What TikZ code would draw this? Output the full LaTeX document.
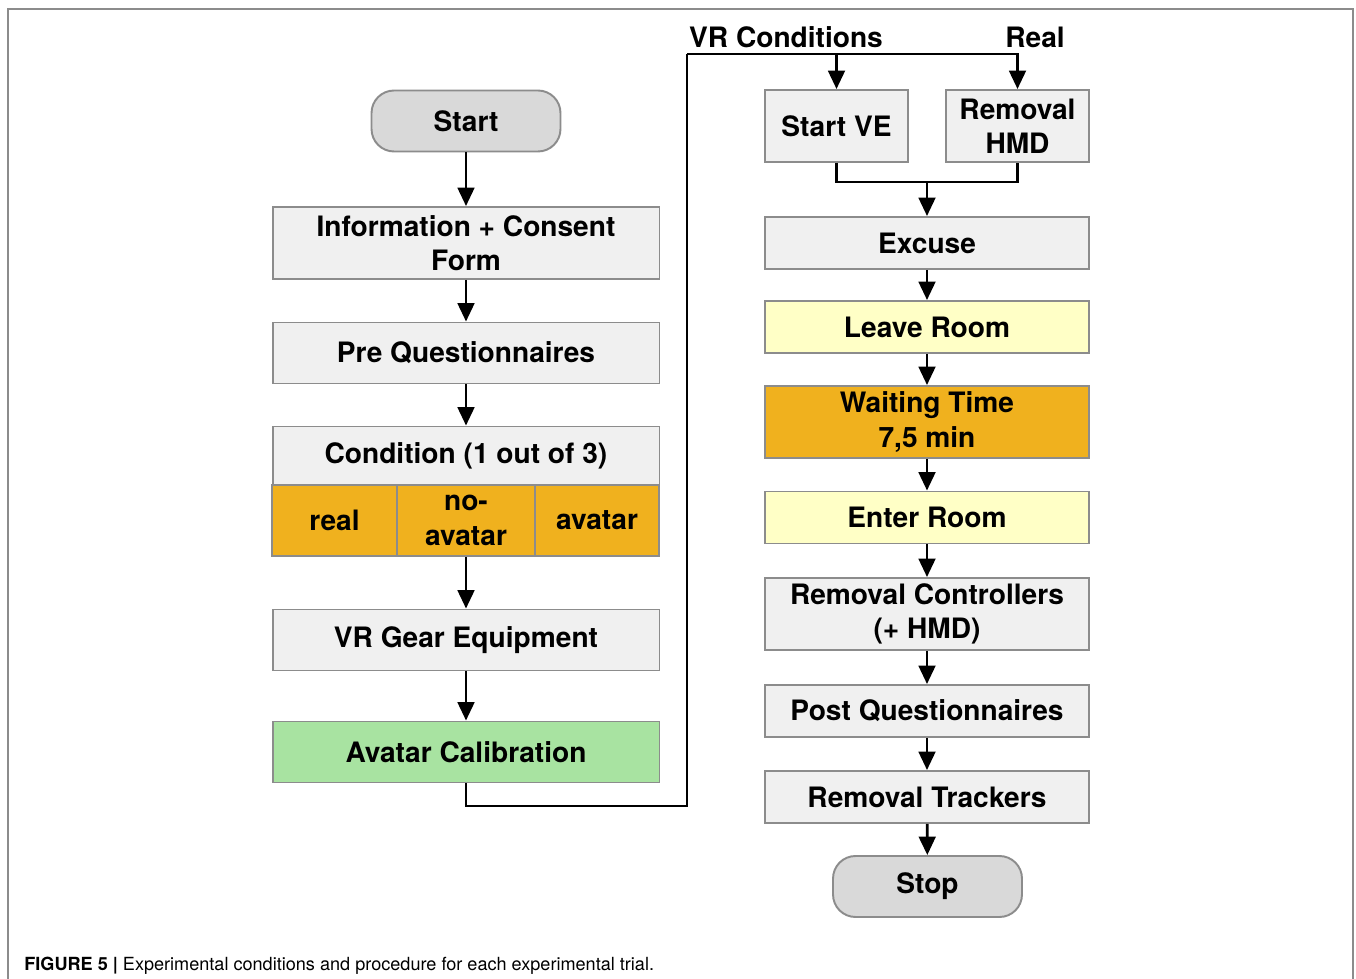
\documentclass[tikz,border=0pt]{standalone}
\usepackage{fontspec}
\setmainfont{TeX Gyre Heros}
\usetikzlibrary{positioning,arrows.meta}

\definecolor{boxgray}{HTML}{F0F0F0}
\definecolor{termgray}{HTML}{D9D9D9}
\definecolor{edgegray}{HTML}{8C8C8C}
\definecolor{paleyellow}{HTML}{FFFFC6}
\definecolor{condorange}{HTML}{F0B11E}
\definecolor{calibgreen}{HTML}{A8E3A1}

\begin{document}
\begin{tikzpicture}[
    x=0.02cm, y=-0.02cm,
    box/.style={draw=edgegray, line width=1.1pt, fill=boxgray, minimum width=7.74cm, minimum height=1.22cm, align=center, inner sep=0pt, font=\fontsize{16}{19.5}\selectfont\bfseries},
    rbox/.style={box, minimum width=6.48cm, minimum height=1.04cm},
    hbox/.style={rbox, minimum width=2.86cm, minimum height=1.44cm},
    subbox/.style={box, fill=condorange, minimum height=1.42cm},
    term/.style={box, fill=termgray, rounded corners=0.45cm, minimum width=3.78cm},
    line/.style={draw, line width=1.6pt},
    arrow/.style={line, -{Triangle[width=9.5pt,length=10.5pt]}},
    label/.style={font=\fontsize{16}{17}\selectfont\bfseries, inner sep=0pt}
]
\useasboundingbox (0,0) rectangle (1356,979);

% Frame
\draw[edgegray, line width=0.8pt] (8,979) -- (8,9) -- (1353,9) -- (1353,979);

% Left column
\node[term] (start) at (466,121) {Start};
\node[box, minimum height=1.44cm] (info) at (466,243) {Information + Consent\\Form};
\node[box] (preq) at (466,353) {Pre Questionnaires};
\node[box, minimum height=1.18cm] (cond) at (466,456) {Condition (1 out of 3)};
\node[subbox, minimum width=2.5cm] (real) at (334.5,520.5) {real};
\node[subbox, minimum width=2.76cm] (noav) at (466,520.5) {no-\\avatar};
\node[subbox, minimum width=2.48cm] (avatar) at (597,520.5) {avatar};
\node[box] (gear) at (466,640) {VR Gear Equipment};
\node[box, fill=calibgreen] (calib) at (466,752) {Avatar Calibration};

% Right column
\node[hbox] (startve) at (836.5,126) {Start VE};
\node[hbox] (remhmd) at (1017.5,126) {Removal\\HMD};
\node[rbox] (excuse) at (927,243) {Excuse};
\node[rbox, fill=paleyellow] (leave) at (927,327) {Leave Room};
\node[rbox, fill=condorange, minimum height=1.44cm] (wait) at (927,422) {Waiting Time\\7,5 min};
\node[rbox, fill=paleyellow] (enter) at (927,517.5) {Enter Room};
\node[rbox, minimum height=1.44cm] (remctrl) at (927,614) {Removal Controllers\\(+ HMD)};
\node[rbox] (postq) at (927,711) {Post Questionnaires};
\node[rbox] (remtrk) at (927,797) {Removal Trackers};
\node[term] (stop) at (927.5,886.5) {Stop};

% Branch labels
\node[label] (vrlab) at (786,37) {VR Conditions};
\node[label] (reallab) at (1035,37) {Real};

% Turning points
\coordinate (low) at (687,806);
\coordinate (high) at (687,54);
\coordinate (join) at (927,182);

% Arrows of the left column
\draw[arrow] (start) -- (info);
\draw[arrow] (info) -- (preq);
\draw[arrow] (preq) -- (cond);
\draw[arrow] (noav) -- (gear);
\draw[arrow] (gear) -- (calib);

% Over to the right column
\draw[line] (calib.south) |- (low) -- (high);
\draw[arrow] (high) -| (remhmd.north);
\draw[arrow] (startve.north |- high) -- (startve.north);
\draw[line] (startve.south) |- (join) -| (remhmd.south);
\draw[arrow] (join) -- (excuse.north);

% Arrows of the right column
\draw[arrow] (excuse) -- (leave);
\draw[arrow] (leave) -- (wait);
\draw[arrow] (wait) -- (enter);
\draw[arrow] (enter) -- (remctrl);
\draw[arrow] (remctrl) -- (postq);
\draw[arrow] (postq) -- (remtrk);
\draw[arrow] (remtrk) -- (stop);

% Caption
\node[anchor=base west, inner sep=0pt, font=\fontsize{10.3}{12}\selectfont] (caption) at (24,970) {\textbf{FIGURE 5 |} Experimental conditions and procedure for each experimental trial.};

\end{tikzpicture}
\end{document}
